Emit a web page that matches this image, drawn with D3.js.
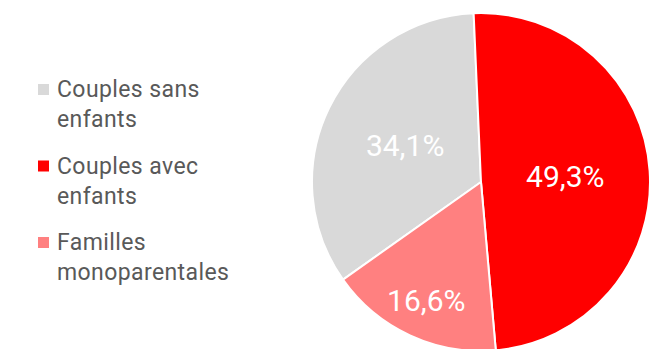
<!DOCTYPE html>
<html>
<head>
<meta charset="utf-8">
<script src="https://cdn.jsdelivr.net/npm/d3@7"></script>
<style>
  html, body { margin: 0; padding: 0; background: #ffffff; }
  svg { display: block; }
  text { font-family: Roboto, "Noto Sans", sans-serif; }
</style>
</head>
<body>
<svg id="chart" width="657" height="349"></svg>
<script>
// Household types (legend order) and their shares in percent
const categories = ["Couples sans enfants", "Couples avec enfants", "Familles monoparentales"];
const legendLines = [["Couples sans", "enfants"], ["Couples avec", "enfants"], ["Familles", "monoparentales"]];
const shares = [34.1, 49.3, 16.6];
const valueLabels = ["34,1%", "49,3%", "16,6%"];
// Clockwise drawing order of the slices, starting at twelve o'clock
const sliceOrder = [1, 2, 0];
const colors = ["#d9d9d9", "#ff0000", "#ff8080"];

const svg = d3.select("#chart");

const cx = 481, cy = 182, radius = 169;
const rotate = -2.5 * Math.PI / 180;

const data = categories.map((c, i) => ({ name: c, value: shares[i], label: valueLabels[i], idx: i }));

const pie = d3.pie()
  .value(d => d.value)
  .sort((a, b) => sliceOrder.indexOf(a.idx) - sliceOrder.indexOf(b.idx))
  .startAngle(rotate)
  .endAngle(rotate + 2 * Math.PI);

const arc = d3.arc().innerRadius(0).outerRadius(radius);
const labelArc = d3.arc().innerRadius(radius * 0.5).outerRadius(radius * 0.5);
const outerLabelArc = d3.arc().innerRadius(radius * 0.77).outerRadius(radius * 0.77);

const g = svg.append("g").attr("transform", `translate(${cx},${cy})`);
const arcs = pie(data);

g.selectAll("path.slice")
  .data(arcs)
  .join("path")
  .attr("class", "slice")
  .attr("d", arc)
  .attr("fill", d => colors[d.data.idx])
  .attr("stroke", "#ffffff")
  .attr("stroke-width", 2)
  .attr("stroke-linejoin", "round");

// Percentage labels: large slices centred, small slices pushed towards the rim
g.selectAll("text.value")
  .data(arcs)
  .join("text")
  .attr("class", "value")
  .attr("transform", d => {
    const big = d.data.value > 20;
    const [x, y] = (big ? labelArc : outerLabelArc).centroid(d);
    return `translate(${x},${y})`;
  })
  .attr("text-anchor", "middle")
  .attr("dy", "0.36em")
  .attr("fill", "#ffffff")
  .attr("font-size", 30)
  .text(d => d.data.label);

// Legend
const legend = svg.append("g").attr("transform", "translate(38,0)");
const itemY = d3.scaleLinear().domain([0, 1]).range([97, 173.5]);
const lineH = 30;

const items = legend.selectAll("g.item")
  .data(data)
  .join("g")
  .attr("class", "item")
  .attr("transform", (d, i) => `translate(0,${itemY(i)})`);

items.append("rect")
  .attr("x", 0)
  .attr("y", -13)
  .attr("width", 11)
  .attr("height", 11)
  .attr("fill", d => colors[d.idx]);

items.append("text")
  .attr("x", 19)
  .attr("y", 0)
  .attr("fill", "#595959")
  .attr("font-size", 23)
  .attr("letter-spacing", 0.4)
  .selectAll("tspan")
  .data(d => legendLines[d.idx])
  .join("tspan")
  .attr("x", 19)
  .attr("dy", (d, i) => i === 0 ? 0 : lineH)
  .text(d => d);
</script>
</body>
</html>
